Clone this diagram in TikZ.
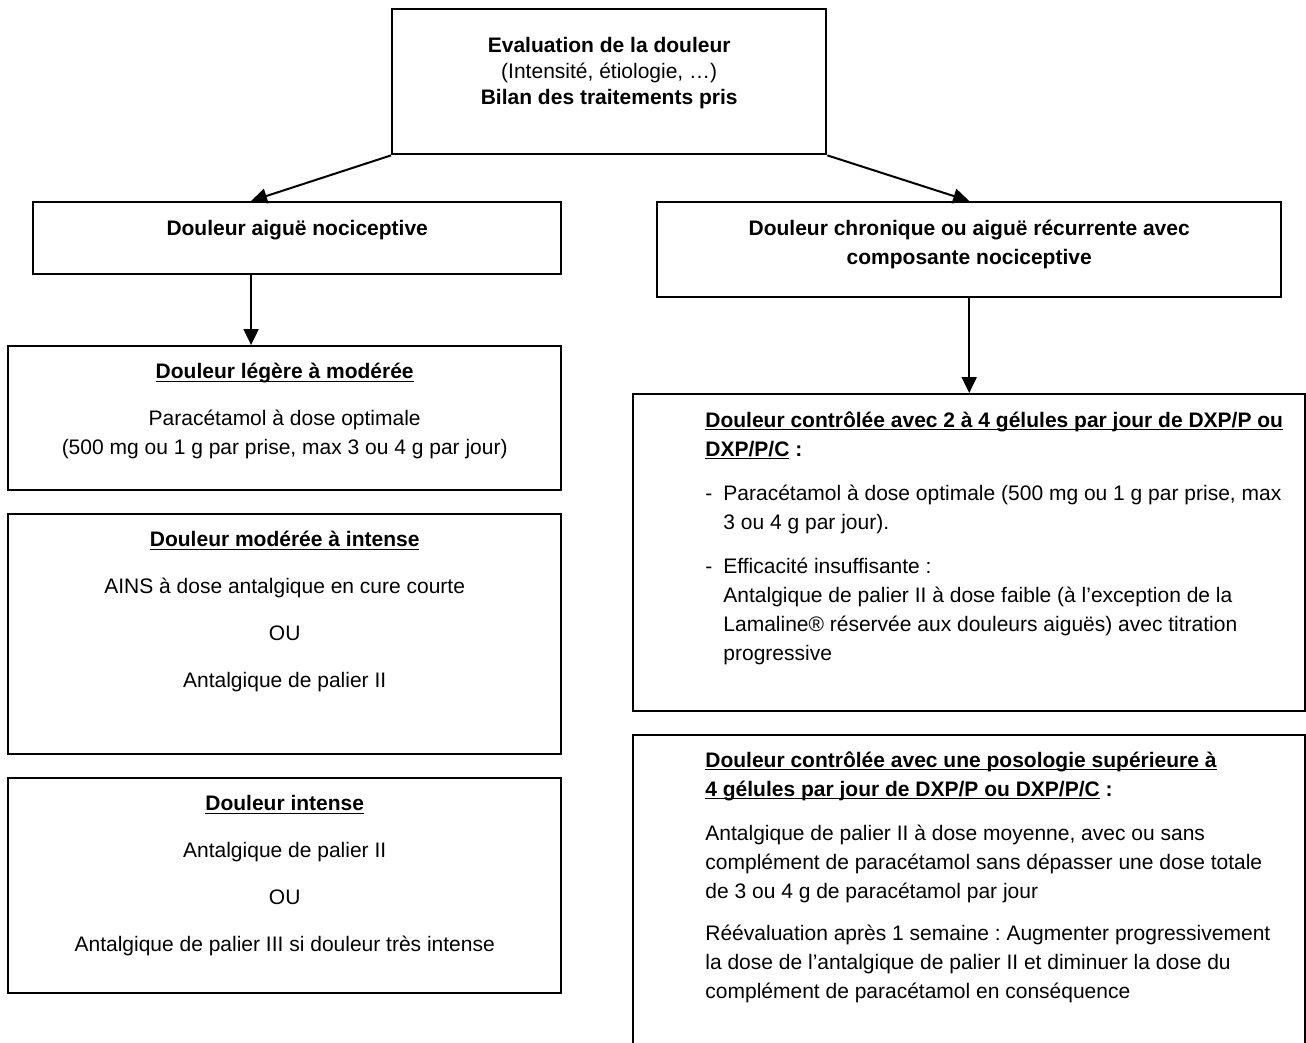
\documentclass[tikz,border=0pt]{standalone}
\usepackage{fontspec}
\setmainfont{Liberation Sans}
\usetikzlibrary{calc, positioning, arrows.meta}
\newcommand{\uln}[1]{\underline{\raisebox{0pt}[\height][0pt]{#1}}}
\frenchspacing

\begin{document}
\begin{tikzpicture}[
    x=0.5pt, y=-0.5pt,
    every node/.style={inner sep=0pt, font=\fontsize{10.5}{14.5}\selectfont},
    box/.style={draw, line width=1.2pt, rectangle, anchor=north west},
    txt/.style={anchor=north, align=center},
    txtl/.style={anchor=north west, align=left},
    arrow/.style={-{Triangle[length=8pt,width=7.5pt]}, line width=1pt}
]
\useasboundingbox (0,0) rectangle (1306,1043);
\clip (0,0) rectangle (1306,1043);

\node[box, minimum width=217pt, minimum height=72.5pt] (eval) at (391,8) {};
\node[box, minimum width=264pt, minimum height=36pt] (leftA) at (32,201) {};
\node[box, minimum width=312pt, minimum height=47.5pt] (rightA) at (656,201) {};
\node[box, minimum width=276.5pt, minimum height=72pt] (leftB) at (7,345) {};
\node[box, minimum width=276.5pt, minimum height=120pt] (leftC) at (7,513) {};
\node[box, minimum width=276.5pt, minimum height=107.5pt] (leftD) at (7,777) {};
\node[box, minimum width=336pt, minimum height=158.5pt] (rightB) at (632,393) {};
\node[box, minimum width=336pt, minimum height=170pt] (rightC) at (632,734) {};

\node[txt, font=\fontsize{10.5}{13}\selectfont] (evaltxt) at ($(eval.north)+(0,29)$)
  {\textbf{Evaluation de la douleur}\\(Intensité, étiologie, …)\\\textbf{Bilan des traitements pris}};
\node[txt] (leftAtxt) at ($(leftA.north)+(0,19)$) {\textbf{Douleur aiguë nociceptive}};
\node[txt] (rightAtxt) at ($(rightA.north)+(0,19)$)
  {\textbf{Douleur chronique ou aiguë récurrente avec}\\\textbf{composante nociceptive}};
\node[txt] (leftBtxt) at ($(leftB.north)+(0,18)$)
  {\textbf{\uln{Douleur légère à modérée}}\\[9pt]
   Paracétamol à dose optimale\\(500 mg ou 1 g par prise, max 3 ou 4 g par jour)};
\node[txt] (leftCtxt) at ($(leftC.north)+(0,18)$)
  {\textbf{\uln{Douleur modérée à intense}}\\[9pt]
   AINS à dose antalgique en cure courte\\[9pt]OU\\[9pt]Antalgique de palier II};
\node[txt] (leftDtxt) at ($(leftD.north)+(0,18)$)
  {\textbf{\uln{Douleur intense}}\\[9pt]
   Antalgique de palier II\\[9pt]OU\\[9pt]Antalgique de palier III si douleur très intense};
\node[txtl] (rightBtxt) at ($(rightB.north west)+(73,18)$)
  {\textbf{\uln{Douleur contrôlée avec 2 à 4 gélules par jour de DXP/P ou}}\\
   \textbf{\uln{DXP/P/C} :}\\[7.5pt]
   \makebox[9pt][l]{-}Paracétamol à dose optimale (500 mg ou 1 g par prise, max\\
   \hspace*{9pt}3 ou 4 g par jour).\\[7.5pt]
   \makebox[9pt][l]{-}Efficacité insuffisante :\\
   \hspace*{9pt}Antalgique de palier II à dose faible (à l’exception de la\\
   \hspace*{9pt}Lamaline® réservée aux douleurs aiguës) avec titration\\
   \hspace*{9pt}progressive};
\node[txtl] (rightCtxt) at ($(rightC.north west)+(73,17)$)
  {\textbf{\uln{Douleur contrôlée avec une posologie supérieure à}}\\
   \textbf{\uln{4 gélules par jour de DXP/P ou DXP/P/C} :}\\[7.5pt]
   Antalgique de palier II à dose moyenne, avec ou sans\\
   complément de paracétamol sans dépasser une dose totale\\
   de 3 ou 4 g de paracétamol par jour\\[6.5pt]
   Réévaluation après 1 semaine : Augmenter progressivement\\
   la dose de l’antalgique de palier II et diminuer la dose du\\
   complément de paracétamol en conséquence};

\coordinate (leftAin) at ($(leftA.north west)!0.413!(leftA.north east)$);
\coordinate (leftAout) at (leftAin |- leftA.south);

\draw[arrow] (eval.south west) -- (leftAin);
\draw[arrow] (eval.south east) -- (rightA.north);
\draw[arrow] (leftAout) -- (leftAout |- leftB.north);
\draw[arrow] (rightA.south) -- (rightB.north);
\end{tikzpicture}
\end{document}
